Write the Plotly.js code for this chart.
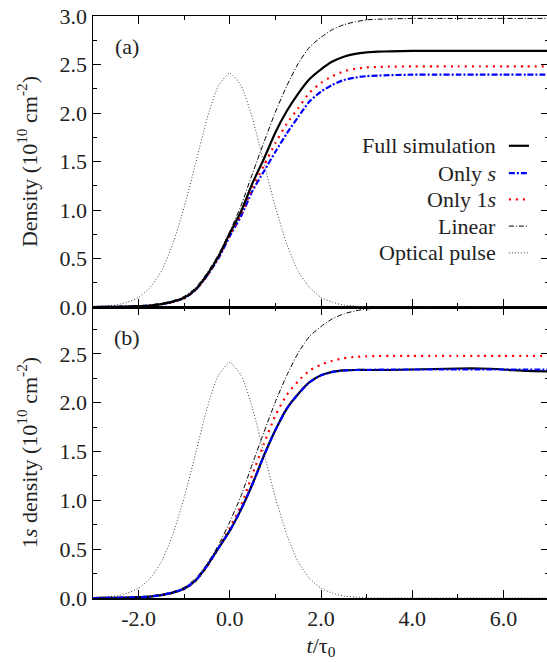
<!DOCTYPE html>
<html>
<head>
<meta charset="utf-8">
<script src="https://cdn.plot.ly/plotly-3.0.1.min.js"></script>
<style>
  html, body { margin: 0; padding: 0; overflow: hidden; background: #fff; }
  #chart { width: 552px; height: 662px; }
</style>
</head>
<body>
<div id="chart"></div>
<script>
// time axis t/tau0
const t = [-3, -2.75, -2.5, -2.25, -2, -1.75, -1.5, -1.25, -1, -0.75, -0.5, -0.25, 0, 0.25, 0.5, 0.75, 1,
           1.25, 1.5, 1.75, 2, 2.25, 2.5, 2.75, 3, 3.25, 3.5, 4, 4.5, 5, 5.5, 6, 6.5, 7];

// optical pulse (arb. units), same in both panels
const pulse = [0.0, 0.01, 0.02, 0.05, 0.10, 0.20, 0.37, 0.65, 1.03, 1.48, 1.94, 2.28, 2.41, 2.28, 1.94, 1.48, 1.03,
               0.65, 0.37, 0.20, 0.10, 0.05, 0.02, 0.01, 0.0, 0.0, 0.0, 0.0, 0.0, 0.0, 0.0, 0.0, 0.0, 0.0];

// linear response, same in both panels
const linear = [0.0, 0.001, 0.003, 0.006, 0.012, 0.022, 0.038, 0.065, 0.11, 0.20, 0.35, 0.54, 0.78, 1.05, 1.38, 1.70, 2.01,
                2.28, 2.51, 2.68, 2.78, 2.86, 2.91, 2.94, 2.96, 2.967, 2.97, 2.975, 2.975, 2.975, 2.975, 2.975, 2.975, 2.975];

// (a) total density
const fullA = [0.0, 0.001, 0.002, 0.004, 0.008, 0.015, 0.03, 0.055, 0.095, 0.18, 0.33, 0.52, 0.76, 0.99, 1.28, 1.53, 1.80,
               2.02, 2.20, 2.35, 2.45, 2.53, 2.58, 2.61, 2.625, 2.632, 2.636, 2.64, 2.64, 2.64, 2.64, 2.64, 2.64, 2.64];
const onlySA = [0.0, 0.001, 0.002, 0.004, 0.008, 0.015, 0.029, 0.053, 0.09, 0.175, 0.32, 0.50, 0.73, 0.94, 1.20, 1.40, 1.60,
                1.79, 1.96, 2.12, 2.22, 2.29, 2.34, 2.365, 2.38, 2.386, 2.39, 2.395, 2.395, 2.395, 2.395, 2.395, 2.395, 2.395];
const only1sA = [0.0, 0.001, 0.002, 0.004, 0.008, 0.015, 0.029, 0.053, 0.09, 0.175, 0.32, 0.51, 0.74, 0.96, 1.23, 1.46, 1.69,
                 1.89, 2.05, 2.21, 2.31, 2.38, 2.43, 2.455, 2.47, 2.475, 2.478, 2.48, 2.48, 2.48, 2.48, 2.48, 2.48, 2.48];

// (b) 1s density
const fullB = [0.0, 0.001, 0.002, 0.004, 0.008, 0.015, 0.03, 0.055, 0.095, 0.18, 0.33, 0.51, 0.69, 0.91, 1.17, 1.46, 1.72,
               1.94, 2.09, 2.21, 2.28, 2.315, 2.33, 2.335, 2.335, 2.335, 2.335, 2.34, 2.345, 2.35, 2.35, 2.34, 2.325, 2.32];
const onlySB = [0.0, 0.001, 0.002, 0.004, 0.008, 0.015, 0.03, 0.055, 0.095, 0.18, 0.33, 0.51, 0.69, 0.91, 1.17, 1.46, 1.72,
                1.94, 2.09, 2.21, 2.28, 2.315, 2.33, 2.335, 2.337, 2.338, 2.34, 2.34, 2.34, 2.34, 2.34, 2.34, 2.34, 2.34];
const only1sB = [0.0, 0.001, 0.002, 0.004, 0.008, 0.015, 0.029, 0.053, 0.09, 0.175, 0.32, 0.51, 0.72, 0.95, 1.27, 1.58, 1.87,
                 2.08, 2.22, 2.33, 2.39, 2.43, 2.455, 2.47, 2.475, 2.478, 2.48, 2.48, 2.48, 2.48, 2.48, 2.48, 2.48, 2.48];

// tick labels
const xTickVals = [-2, 0, 2, 4, 6];
const xTickText = ['-2.0', '0.0', '2.0', '4.0', '6.0'];
const legendNames = ['Full simulation', 'Only <i>s</i>', 'Only 1<i>s</i>', 'Linear', 'Optical pulse'];

const FONT = '"Liberation Serif", "DejaVu Serif", serif';
const TEXT_COLOR = '#222222';
const styles = {
  full:   { color: '#000000', width: 2.2, dash: 'solid' },
  onlyS:  { color: '#0000ff', width: 2.2, dash: '6px,2px,2px,2px' },
  only1s: { color: '#ff0000', width: 2.2, dash: '2px,5px' },
  linear: { color: '#000000', width: 1, dash: '5px,2px,1px,2px' },
  pulse:  { color: '#444444', width: 1, dash: '1px,2px' }
};

function line(x, y, st, xa, ya) {
  return { x: x, y: y, xaxis: xa, yaxis: ya, type: 'scatter', mode: 'lines',
           line: { color: st.color, width: st.width, dash: st.dash, shape: 'spline', smoothing: 0.6 },
           hoverinfo: 'skip', showlegend: false };
}

const data = [
  // panel (a)
  line(t, pulse, styles.pulse, 'x2', 'y2'),
  line(t, linear, styles.linear, 'x2', 'y2'),
  line(t, onlySA, styles.onlyS, 'x2', 'y2'),
  line(t, only1sA, styles.only1s, 'x2', 'y2'),
  line(t, fullA, styles.full, 'x2', 'y2'),
  // panel (b)
  line(t, pulse, styles.pulse, 'x', 'y'),
  line(t, linear, styles.linear, 'x', 'y'),
  line(t, only1sB, styles.only1s, 'x', 'y'),
  line(t, fullB, styles.full, 'x', 'y'),
  line(t, onlySB, styles.onlyS, 'x', 'y')
];

const textFont = { family: FONT, size: 22, color: TEXT_COLOR };

const axisCommon = {
  showline: true, linecolor: '#000', linewidth: 1.5, mirror: 'allticks',
  ticks: 'inside', ticklen: 8, tickwidth: 1, tickcolor: '#000',
  showgrid: false, zeroline: false,
  tickfont: textFont,
  minor: { ticks: 'inside', ticklen: 4, tickwidth: 1, tickcolor: '#000', showgrid: false }
};

// legend drawn as right-aligned labels with short line samples to their right
const legendStyles = [styles.full, styles.onlyS, styles.only1s, styles.linear, styles.pulse];
const legendY = [0.777, 0.730, 0.685, 0.639, 0.593];
const annotations = [
  { text: '(a)', xref: 'paper', yref: 'paper', x: 0.074, y: 0.947, showarrow: false,
    xanchor: 'center', yanchor: 'middle', font: textFont },
  { text: '(b)', xref: 'paper', yref: 'paper', x: 0.074, y: 0.448, showarrow: false,
    xanchor: 'center', yanchor: 'middle', font: textFont }
];
const shapes = [];
legendNames.forEach(function (name, i) {
  annotations.push({ text: name, xref: 'paper', yref: 'paper', x: 0.888, y: legendY[i],
    showarrow: false, xanchor: 'right', yanchor: 'middle', font: textFont });
  const st = legendStyles[i];
  shapes.push({ type: 'line', xref: 'paper', yref: 'paper', x0: 0.912, x1: 0.956,
    y0: legendY[i], y1: legendY[i], line: { color: st.color, width: st.width, dash: st.dash } });
});

const layout = {
  width: 552, height: 662,
  margin: { l: 93, r: 3, t: 16, b: 64 },
  paper_bgcolor: '#fff', plot_bgcolor: '#fff',
  font: textFont,
  showlegend: false,
  xaxis: Object.assign({}, axisCommon, {
    range: [-3, 7], anchor: 'y',
    tickvals: xTickVals, ticktext: xTickText,
    minor: Object.assign({}, axisCommon.minor, { dtick: 1, tick0: 0 }),
    title: { text: '<i>t</i>/τ<sub>0</sub>', font: textFont, standoff: 7 }
  }),
  xaxis2: Object.assign({}, axisCommon, {
    range: [-3, 7], anchor: 'y2', matches: 'x', showticklabels: false,
    tickvals: xTickVals,
    minor: Object.assign({}, axisCommon.minor, { dtick: 1, tick0: 0 })
  }),
  yaxis: Object.assign({}, axisCommon, {
    domain: [0, 0.5], range: [0, 2.98], anchor: 'x',
    dtick: 0.5, tick0: 0, tickformat: '.1f',
    minor: Object.assign({}, axisCommon.minor, { dtick: 0.25 }),
    title: { text: '1<i>s</i> density (10<sup>10</sup> cm<sup>-2</sup>)', font: textFont, standoff: 16 }
  }),
  yaxis2: Object.assign({}, axisCommon, {
    domain: [0.5, 1], range: [0, 3], anchor: 'x2',
    dtick: 0.5, tick0: 0, tickformat: '.1f',
    minor: Object.assign({}, axisCommon.minor, { dtick: 0.25 }),
    title: { text: 'Density (10<sup>10</sup> cm<sup>-2</sup>)', font: textFont, standoff: 16 }
  }),
  annotations: annotations,
  shapes: shapes
};

Plotly.newPlot('chart', data, layout, { staticPlot: true, displayModeBar: false });
</script>
</body>
</html>
